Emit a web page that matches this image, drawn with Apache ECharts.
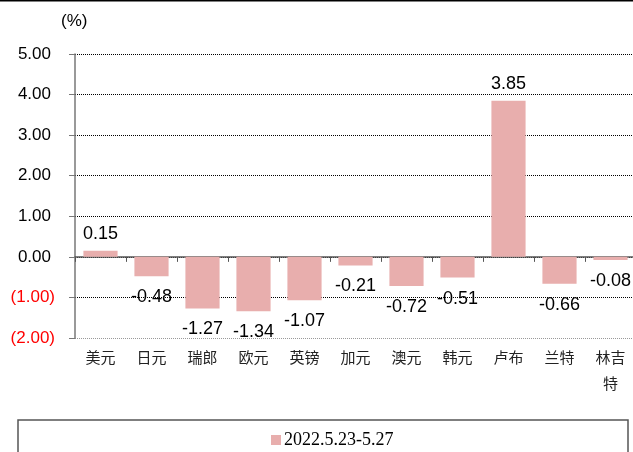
<!DOCTYPE html>
<html>
<head>
<meta charset="utf-8">
<script src="https://cdn.jsdelivr.net/npm/echarts@6/dist/echarts.min.js"></script>
<style>
  html, body { margin: 0; padding: 0; background: #fff; }
  #chart { width: 633px; height: 452px; }
</style>
</head>
<body>
<div id="chart"></div>
<script>
// Weekly change of each currency against the RMB, in percent
const currencies = ['美元', '日元', '瑞郎', '欧元', '英镑', '加元', '澳元', '韩元', '卢布', '兰特', '林吉特'];
const weeklyChange = [0.15, -0.48, -1.27, -1.34, -1.07, -0.21, -0.72, -0.51, 3.85, -0.66, -0.08];
const seriesName = '2022.5.23-5.27';
const yMin = -2, yMax = 5, yStep = 1;

const chart = echarts.init(document.getElementById('chart'));

// accounting style: negatives in red parentheses, positives padded to line up
const fmtAxis = v => v < 0
  ? '{n|(' + Math.abs(v).toFixed(2) + ')}'
  : '{p|' + v.toFixed(2) + '}';

chart.setOption({
  animation: false,
  textStyle: { fontFamily: 'Liberation Sans, Arial, sans-serif' },
  grid: { left: 75, top: 54, width: 561, height: 284, containLabel: false, outerBoundsMode: 'none' },
  legend: {
    data: [seriesName],
    left: 266,
    top: 426,
    icon: 'rect',
    itemWidth: 10,
    itemHeight: 10,
    itemGap: 3,
    textStyle: { fontFamily: 'Liberation Serif, Times New Roman, serif', fontSize: 18, color: '#000', padding: [0, 0, 0, -2] }
  },
  xAxis: {
    type: 'category',
    data: currencies,
    axisLine: { onZero: true, lineStyle: { color: '#555', width: 1.5 } },
    axisTick: { show: true, alignWithLabel: false, length: 5, lineStyle: { color: '#555', width: 1 } },
    axisLabel: {
      margin: 6,
      fontFamily: 'Noto Sans CJK SC, sans-serif',
      fontSize: 15,
      color: '#222',
      lineHeight: 26,
      interval: 0,
      formatter: s => s.length > 2 ? s.slice(0, 2) + '\n' + s.slice(2) : s
    }
  },
  yAxis: {
    type: 'value',
    min: yMin,
    max: yMax,
    interval: yStep,
    axisLine: { show: true, lineStyle: { color: '#777', width: 1.5 } },
    axisTick: { show: true, length: 6, lineStyle: { color: '#777' } },
    axisLabel: {
      margin: 20,
      formatter: fmtAxis,
      rich: {
        p: { fontSize: 17, color: '#000', padding: [0, 4, 0, 0] },
        n: { fontSize: 17, color: '#ff0000' }
      }
    },
    splitLine: {
      show: true,
      lineStyle: { type: [1, 1], color: ['#999', '#000', '#000', '#000', '#000', '#000', '#000', '#000'], width: 1 }
    }
  },
  graphic: [
    { type: 'line', shape: { x1: 0, y1: 0.5, x2: 633, y2: 0.5 }, style: { stroke: '#000', lineWidth: 2 } },
    { type: 'text', left: 61, top: 13, style: { text: '(%)', font: '17px Liberation Sans, Arial, sans-serif', fill: '#000' } },
    { type: 'rect', shape: { x: 18, y: 420, width: 610, height: 60 }, style: { fill: 'none', stroke: '#555', lineWidth: 1.5 }, z: -1 }
  ],
  series: [{
    name: seriesName,
    type: 'bar',
    data: weeklyChange.map(v => ({ value: v, label: { position: v < 0 ? 'bottom' : 'top', distance: v < 0 ? 12 : 8 } })),
    barCategoryGap: '33%',
    itemStyle: { color: '#E8AEAD' },
    label: {
      show: true,
      fontSize: 18,
      color: '#000',
      formatter: p => p.value.toFixed(2)
    }
  }]
});
</script>
</body>
</html>
